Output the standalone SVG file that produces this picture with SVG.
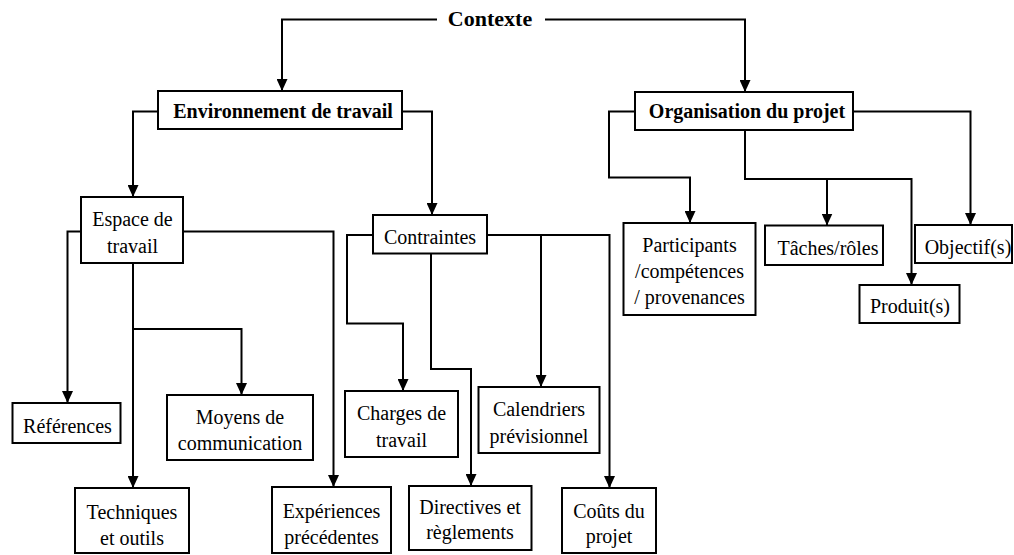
<svg xmlns="http://www.w3.org/2000/svg" width="1014" height="555" viewBox="0 0 1014 555">
<defs>
<marker id="arr" viewBox="0 0 12 11" refX="12" refY="5.5" markerWidth="12" markerHeight="11" markerUnits="userSpaceOnUse" orient="auto">
<path d="M0,0 L12,5.5 L0,11 z" fill="#000"/>
</marker>
<style>
rect{fill:#fff;stroke:#000;stroke-width:2}
text{font-size:20px;fill:#000;text-anchor:middle}
.b{font-weight:bold}
.c path{fill:none;stroke:#000;stroke-width:2}
.c .a{marker-end:url(#arr)}
</style>
</defs>
<rect x="0" y="0" width="1014" height="555" style="fill:#fff;stroke:none"/>
<g class="c" id="connectors">
<path class="a" d="M437,19.5 H282 V91"/>
<path class="a" d="M545,19.5 H745 V92"/>
<path class="a" d="M158,111.5 H133 V197"/>
<path class="a" d="M402,111.5 H432 V215"/>
<path class="a" d="M635,111.5 H609 V177.5 H690 V223"/>
<path class="a" d="M745,130 V179 H911.5 V285"/>
<path class="a" d="M827,179 V225.5"/>
<path class="a" d="M853,111.5 H970.5 V225"/>
<path class="a" d="M81,231.5 H67.5 V403"/>
<path class="a" d="M133,263 V488"/>
<path class="a" d="M133,329 H241.5 V395"/>
<path class="a" d="M183,231.5 H333.5 V487"/>
<path class="a" d="M373,235 H347 V323.5 H403 V391"/>
<path class="a" d="M431,253.5 V369 H471 V486"/>
<path class="a" d="M541,235 V387"/>
<path class="a" d="M487,235 H609.5 V488"/>
</g>
<g font-family="'Liberation Serif', 'Times New Roman', 'DejaVu Serif', serif">
<g id="contexte">
<text class="b" x="490" y="26" style="font-size:22px">Contexte</text>
</g>
<g id="environnement">
<rect x="158" y="91" width="244" height="38"/>
<text class="b" x="283" y="118">Environnement de travail</text>
</g>
<g id="organisation">
<rect x="635" y="92" width="218" height="38"/>
<text class="b" x="747" y="118">Organisation du projet</text>
</g>
<g id="espace">
<rect x="81" y="197" width="102" height="66"/>
<text x="132.5" y="226">Espace de</text>
<text x="132.5" y="253">travail</text>
</g>
<g id="contraintes">
<rect x="373" y="215" width="114" height="38.5"/>
<text x="430" y="244">Contraintes</text>
</g>
<g id="participants">
<rect x="623.5" y="223" width="132" height="92"/>
<text x="689.5" y="251.5">Participants</text>
<text x="689.5" y="277.5">/compétences</text>
<text x="689.5" y="303.5">/ provenances</text>
</g>
<g id="taches">
<rect x="765" y="225.5" width="118" height="39.5"/>
<text x="828" y="255">Tâches/rôles</text>
</g>
<g id="objectifs">
<rect x="915" y="225" width="97" height="38"/>
<text x="968" y="254">Objectif(s)</text>
</g>
<g id="produits">
<rect x="859.5" y="285" width="100" height="38"/>
<text x="910" y="313">Produit(s)</text>
</g>
<g id="references">
<rect x="12.5" y="403" width="108" height="40"/>
<text x="67.5" y="433">Références</text>
</g>
<g id="moyens">
<rect x="167" y="395" width="146" height="65"/>
<text x="240" y="424">Moyens de</text>
<text x="240" y="449.5">communication</text>
</g>
<g id="techniques">
<rect x="75" y="488" width="114" height="65"/>
<text x="132" y="519">Techniques</text>
<text x="132" y="545">et outils</text>
</g>
<g id="experiences">
<rect x="272" y="487" width="119" height="66"/>
<text x="331.5" y="518">Expériences</text>
<text x="331.5" y="543.5">précédentes</text>
</g>
<g id="charges">
<rect x="345" y="391" width="113" height="66"/>
<text x="401.5" y="420">Charges de</text>
<text x="401.5" y="446.5">travail</text>
</g>
<g id="directives">
<rect x="409" y="486" width="122.5" height="64"/>
<text x="470" y="513.5">Directives et</text>
<text x="470" y="538.5">règlements</text>
</g>
<g id="calendriers">
<rect x="478.5" y="387" width="121" height="66"/>
<text x="539" y="416">Calendriers</text>
<text x="539" y="442.5">prévisionnel</text>
</g>
<g id="couts">
<rect x="562" y="488" width="94" height="65"/>
<text x="609" y="518">Coûts du</text>
<text x="609" y="543">projet</text>
</g>
</g>
</svg>
